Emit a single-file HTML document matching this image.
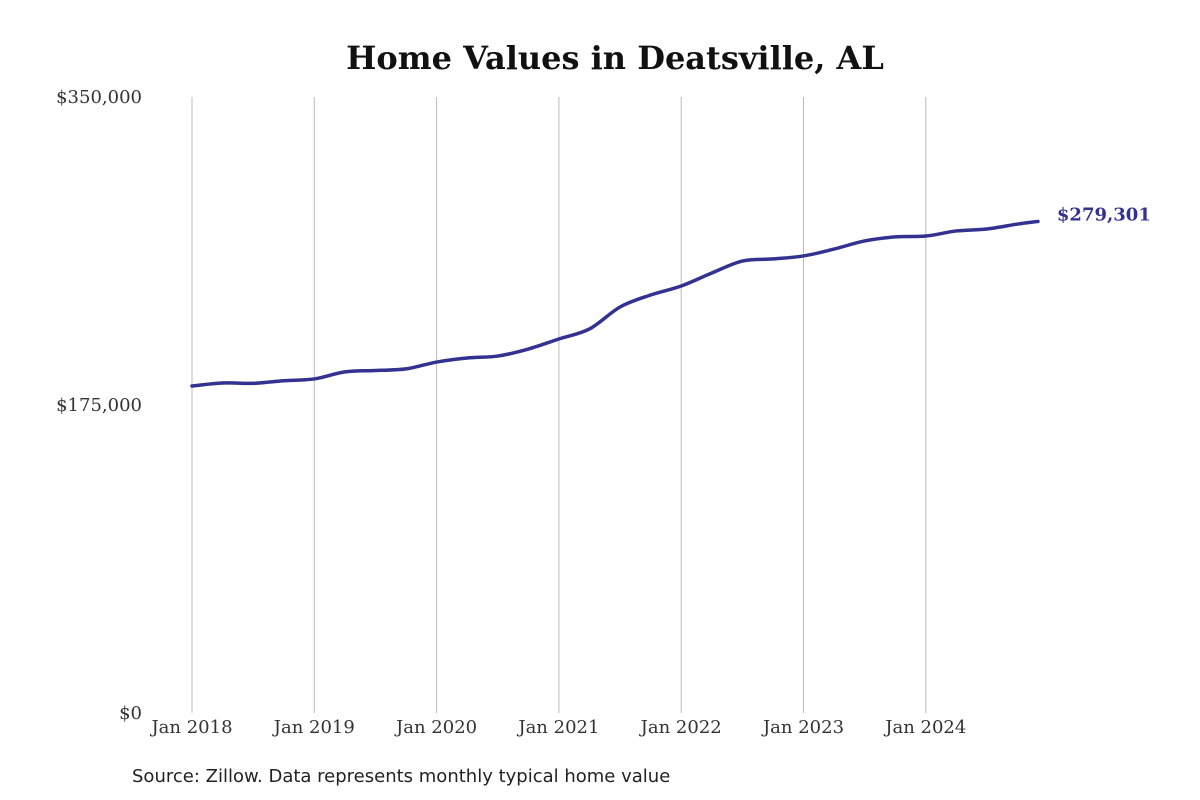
<!DOCTYPE html>
<html><head><meta charset="utf-8"><style>
body{margin:0;background:#fff;}
svg{display:block;}
</style></head><body>
<svg id="chart" width="1200" height="800" xmlns="http://www.w3.org/2000/svg">
<text x="615" y="69" text-anchor="middle" font-family="'DejaVu Serif','Liberation Serif',serif" font-weight="bold" font-size="32" fill="#111">Home Values in Deatsville, AL</text>
<g id="grid"></g><g id="yaxis"></g><g id="xaxis"></g><g id="series"></g>
<text x="132" y="782" font-family="'DejaVu Sans','Liberation Sans',sans-serif" font-size="18" fill="#222">Source: Zillow. Data represents monthly typical home value</text>
</svg>
<script>
const xLabels=["Jan 2018","Jan 2019","Jan 2020","Jan 2021","Jan 2022","Jan 2023","Jan 2024"];
const yTicks=[0,175000,350000];
const yTickLabels=["$0","$175,000","$350,000"];
// months since Jan 2018
const months=[0,3,6,9,12,15,18,21,24,27,30,33,36,39,42,45,48,51,54,57,60,63,66,69,72,75,78,81,83];
const values=[185800,187500,187300,188800,189800,193800,194600,195500,199400,201700,202800,206800,212500,218200,230700,237500,242600,250000,256800,258000,259700,263600,268200,270500,271000,273900,275000,277800,279301];
const endLabel="$279,301";
const NS="http://www.w3.org/2000/svg";
const x=m=>192+m*(122.3/12);
const y=v=>713-v*616/350000;
function mk(tag,attrs,parent,text){const e=document.createElementNS(NS,tag);for(const k in attrs)e.setAttribute(k,attrs[k]);if(text!==undefined)e.textContent=text;parent.appendChild(e);return e;}
const grid=document.getElementById('grid'),xa=document.getElementById('xaxis'),ya=document.getElementById('yaxis'),se=document.getElementById('series');
const serif="'DejaVu Serif','Liberation Serif',serif";
xLabels.forEach((l,i)=>{
  const gx=x(i*12);
  const g=mk('line',{x1:gx,x2:gx,y1:97,y2:713,stroke:'#bbb','stroke-width':1},grid);
  
  
  const t=mk('text',{x:gx,y:733,'text-anchor':'middle','font-family':serif,'font-size':18,fill:'#333'},xa,l);
  
  
});
yTicks.forEach((v,i)=>{
  const t=mk('text',{x:142,y:y(v)+6,'text-anchor':'end','font-family':serif,'font-size':18,fill:'#333'},ya,yTickLabels[i]);
  
  
});
const pts=months.map((m,i)=>[x(m),y(values[i])]);
let d="M"+pts[0][0]+","+pts[0][1];
for(let i=0;i<pts.length-1;i++){
  const p0=pts[Math.max(0,i-1)],p1=pts[i],p2=pts[i+1],p3=pts[Math.min(pts.length-1,i+2)];
  const c1x=p1[0]+(p2[0]-p0[0])/6,c1y=p1[1]+(p2[1]-p0[1])/6;
  const c2x=p2[0]-(p3[0]-p1[0])/6,c2y=p2[1]-(p3[1]-p1[1])/6;
  d+=` C${c1x},${c1y} ${c2x},${c2y} ${p2[0]},${p2[1]}`;
}
const path=mk('path',{d:d,fill:'none',stroke:'#343290','stroke-width':3.5,'stroke-linecap':'round'},se);


const last=pts[pts.length-1];
const lbl=mk('text',{x:last[0]+19,y:last[1]+-1,'font-family':serif,'font-weight':'bold','font-size':18,fill:'#343290'},se,endLabel);


</script>
</body></html>
